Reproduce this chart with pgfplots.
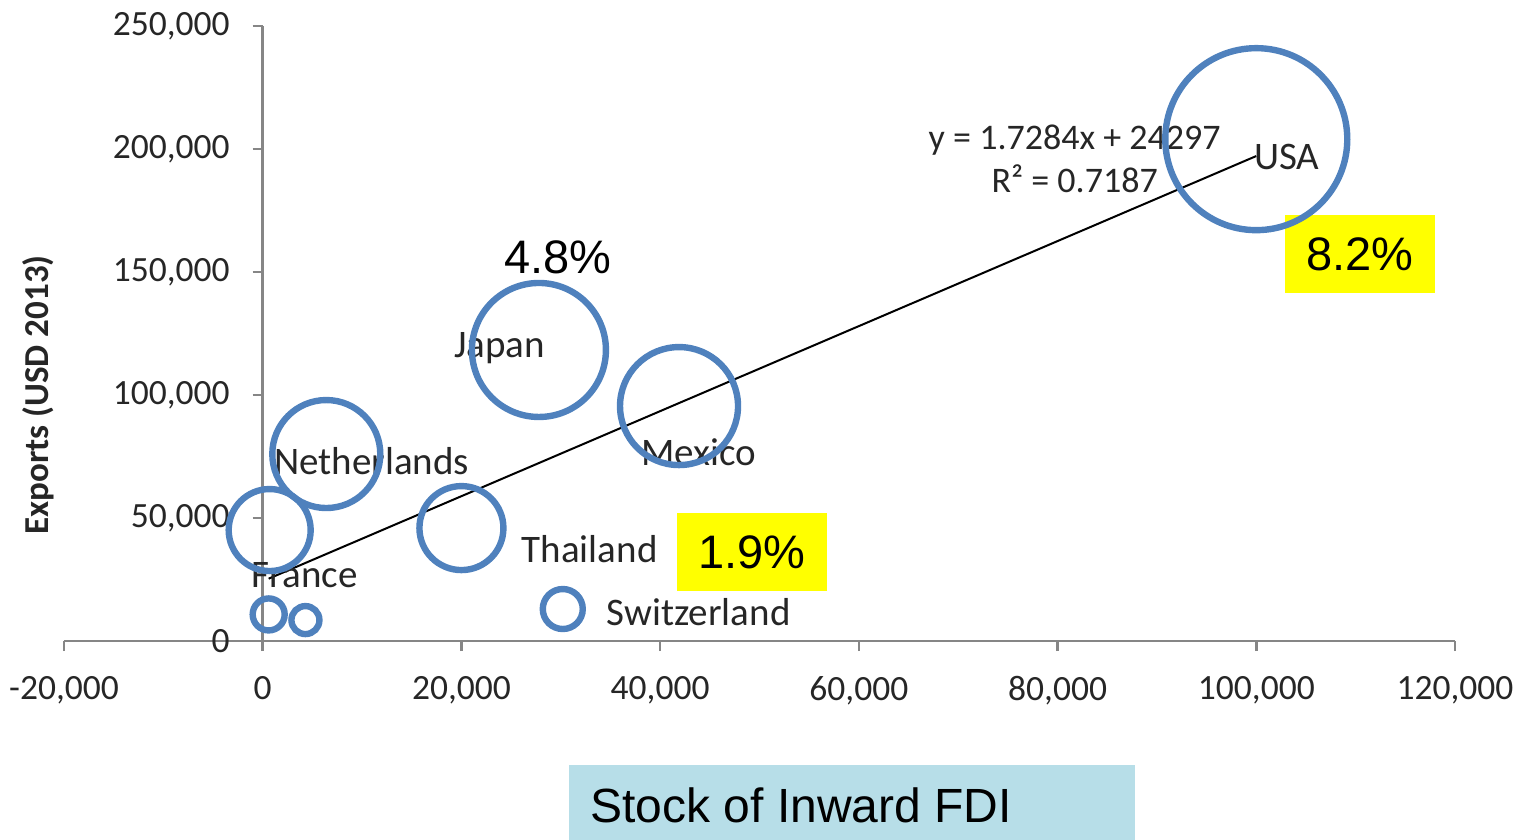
\documentclass[border=0pt]{standalone}
\usepackage{pgfplots}
\usepackage{pgfplotstable}
\pgfplotsset{compat=1.18}
\usepackage{fontspec}
\setmainfont{Carlito}
\newfontfamily\arial{Liberation Sans}
\definecolor{bubble}{HTML}{4F81BD}
\definecolor{axisgray}{HTML}{868686}
\definecolor{hlyellow}{HTML}{FFFF00}
\definecolor{boxblue}{HTML}{B7DEE8}
\pgfplotstableread{
x y r
100000 204000 45.5
27800 118300 33.5
41900 95500 29.5
6400 76000 27
700 45100 20.5
600 10800 8
4300 8500 7
20000 45900 21
30200 13000 10
}\bubbles
\begin{document}
\begin{tikzpicture}[x=1pt,y=1pt]
\path[use as bounding box] (0,0) rectangle (762.5,420);
\begin{axis}[
  at={(32pt,99.5pt)}, anchor=south west,
  scale only axis, width=695.5pt, height=307.5pt,
  xmin=-20000, xmax=120000, ymin=0, ymax=250000,
  axis lines=middle,
  axis line style={-, draw=axisgray, line width=1.3pt},
  tick style={draw=axisgray, line width=1.3pt},
  tick align=outside, major tick length=5pt,
  hide obscured x ticks=false, hide obscured y ticks=false,
  xtick={-20000,0,...,120000},
  xticklabels={{-20,000},{0},{20,000},{40,000},{60,000},{80,000},{100,000},{120,000}},
  ytick={0,50000,...,250000},
  yticklabels={{0},{50,000},{100,000},{150,000},{200,000},{250,000}},
  ticklabel style={font=\fontsize{17.75}{20}\selectfont, text=black!85},
  xticklabel style={yshift=-9pt},
  yticklabel style={xshift=-8pt},
  scaled ticks=false,
  clip=false,
]
\addplot[scatter, only marks, mark=o, line width=3.2pt,
  mark options={line width=3.2pt, draw=bubble},
  scatter/use mapped color={draw=bubble},
  visualization depends on={\thisrow{r}\as\rad},
  scatter/@pre marker code/.append style={/tikz/mark size=\rad}]
  table[x=x,y=y,meta=r]{\bubbles};
\addplot[black, line width=1pt, no marks] coordinates {(600,25334) (100000,197137)};
\begin{scope}[every node/.style={font=\fontsize{19.5}{22}\selectfont, text=black!85}]
\node at (axis cs:103060,196750) {USA};
\node at (axis cs:23850,119110) {Japan};
\node at (axis cs:43880,76830) {Mexico};
\node at (axis cs:10970,73170) {Netherlands};
\node at (axis cs:4230,26830) {France};
\node at (axis cs:32910,37400) {Thailand};
\node at (axis cs:43880,11790) {Switzerland};
\end{scope}
\node[align=center, font=\fontsize{18}{21.5}\selectfont, text=black!85] at (axis cs:81720,196140) {y = 1.7284x + 24297\\R² = 0.7187};
\node[font=\arial\fontsize{23.5}{28}\selectfont] at (axis cs:29690,156100) {4.8\%};
\node[fill=hlyellow, minimum width=75pt, minimum height=39pt, inner sep=0pt, font=\arial\fontsize{23.5}{28}\selectfont] at (axis cs:110410,157320) {8.2\%};
\node[fill=hlyellow, minimum width=75pt, minimum height=39pt, inner sep=0pt, font=\arial\fontsize{23.5}{28}\selectfont] at (axis cs:49210,36180) {1.9\%};
\end{axis}
\fill[boxblue] (284.5,0) rectangle (567.5,37.5);
\node[anchor=base west, inner sep=0pt, font=\arial\fontsize{24}{28}\selectfont] at (295,9) {Stock of Inward FDI};
\node[rotate=90, font=\bfseries\fontsize{17.5}{20}\selectfont, text=black!85] at (19,222.5) {Exports (USD 2013)};
\end{tikzpicture}
\end{document}
